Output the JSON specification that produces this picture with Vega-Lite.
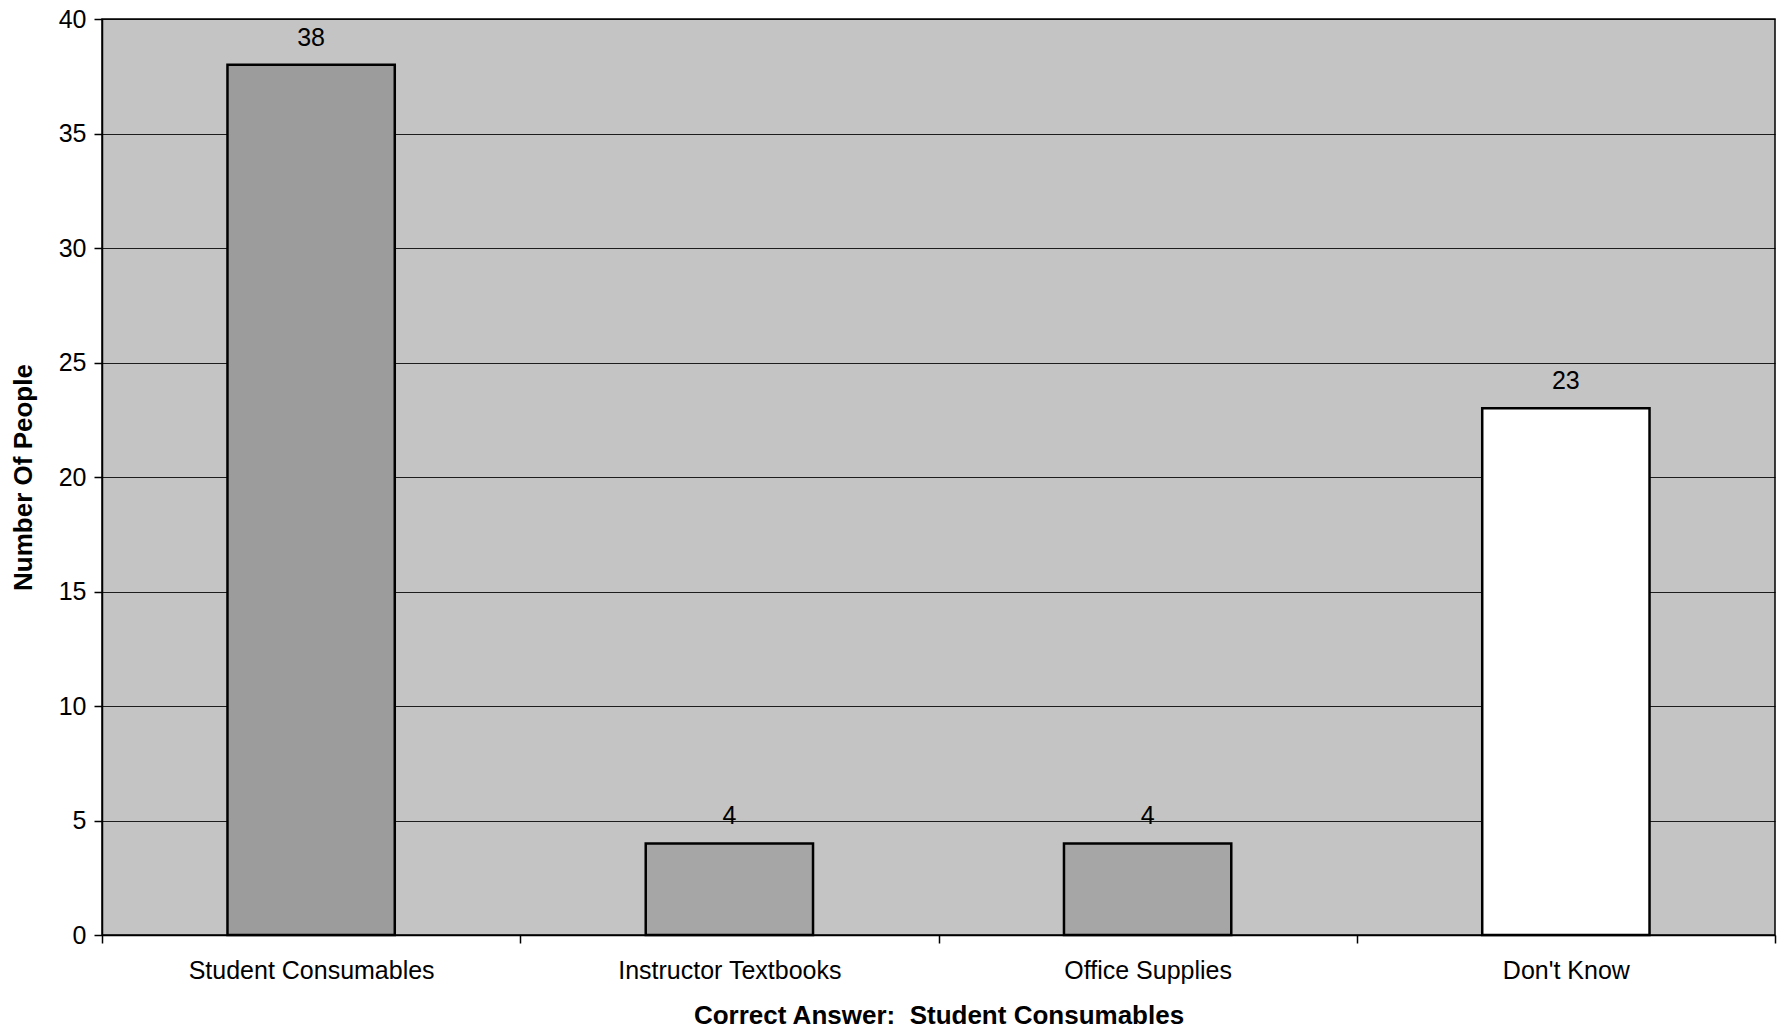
{
  "$schema": "https://vega.github.io/schema/vega-lite/v6.json",
  "width": 1673,
  "height": 916,
  "autosize": {"type": "none"},
  "padding": {"left": 102, "top": 19, "right": 7, "bottom": 97},
  "background": "white",
  "config": {
    "font": "Liberation Sans",
    "view": {"fill": "#c4c4c4", "stroke": "black", "strokeWidth": 1.5}
  },
  "data": {
    "values": [
      {"answer": "Student Consumables", "people": 38},
      {"answer": "Instructor Textbooks", "people": 4},
      {"answer": "Office Supplies", "people": 4},
      {"answer": "Don't Know", "people": 23}
    ]
  },
  "encoding": {
    "x": {
      "field": "answer",
      "type": "nominal",
      "sort": null,
      "scale": {"paddingInner": 0, "paddingOuter": 0},
      "axis": {
        "title": "Correct Answer:\u00a0 Student Consumables",
        "labelAngle": 0,
        "labelLimit": 400,
        "tickBand": "extent",
        "labelFontSize": 25,
        "labelColor": "black",
        "titleFontSize": 26,
        "titleFontWeight": "bold",
        "titleColor": "black",
        "domainColor": "black",
        "domainWidth": 1.5,
        "tickColor": "black",
        "tickWidth": 1.5,
        "tickSize": 8,
        "labelPadding": 15,
        "titlePadding": 19,
        "grid": false
      }
    },
    "y": {
      "field": "people",
      "type": "quantitative",
      "scale": {"domain": [0, 40], "nice": false},
      "axis": {
        "title": "Number Of People",
        "values": [0, 5, 10, 15, 20, 25, 30, 35, 40],
        "labelFontSize": 25,
        "labelColor": "black",
        "labelPadding": 8,
        "titleFontSize": 26,
        "titleFontWeight": "bold",
        "titleColor": "black",
        "titlePadding": 22,
        "domainColor": "black",
        "domainWidth": 1.5,
        "tickColor": "black",
        "tickWidth": 1.5,
        "tickSize": 8,
        "grid": true,
        "gridColor": "black",
        "gridWidth": 1,
        "gridOpacity": 0.85
      }
    }
  },
  "layer": [
    {
      "mark": {"type": "bar", "width": {"band": 0.4}, "stroke": "black", "strokeWidth": 2.5},
      "encoding": {
        "color": {
          "field": "answer",
          "type": "nominal",
          "scale": {
            "domain": ["Student Consumables", "Instructor Textbooks", "Office Supplies", "Don't Know"],
            "range": ["#9c9c9c", "#a6a6a6", "#a6a6a6", "#ffffff"]
          },
          "legend": null
        }
      }
    },
    {
      "mark": {"type": "text", "baseline": "bottom", "dy": -14, "fontSize": 25, "color": "black"},
      "encoding": {"text": {"field": "people", "type": "quantitative"}}
    }
  ]
}
